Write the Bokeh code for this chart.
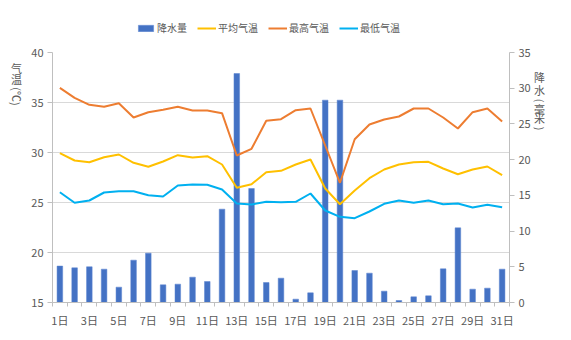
import math
from bokeh.plotting import figure
from bokeh.layouts import row, column
from bokeh.models import (Range1d, LinearAxis, FixedTicker, Legend, LegendItem)
from bokeh.core.properties import value
from bokeh.embed import file_html
from bokeh.resources import INLINE

days = list(range(1, 32))
day_labels = [f"{d}日" for d in days]

rain = [5.1, 4.85, 5.0, 4.67, 2.15, 5.93, 6.91, 2.47, 2.57, 3.55, 2.94, 13.07, 32.06, 15.96,
        2.8, 3.41, 0.47, 1.35, 28.33, 28.33, 4.48, 4.11, 1.59, 0.28, 0.79, 0.93, 4.71, 10.45,
        1.87, 2.01, 4.67]
t_avg = [29.93, 29.2, 29.03, 29.53, 29.8, 28.97, 28.57, 29.1, 29.73, 29.5, 29.63, 28.8, 26.47,
         26.83, 28.03, 28.17, 28.8, 29.3, 26.4, 24.83, 26.2, 27.43, 28.3, 28.8, 29.03, 29.07,
         28.4, 27.83, 28.3, 28.6, 27.73]
t_max = [36.47, 35.47, 34.77, 34.57, 34.93, 33.5, 34.03, 34.27, 34.57, 34.2, 34.2, 33.93, 29.7,
         30.37, 33.17, 33.33, 34.23, 34.4, 30.7, 26.97, 31.33, 32.8, 33.3, 33.6, 34.4, 34.4,
         33.5, 32.4, 34.03, 34.4, 33.1]
t_min = [26.03, 24.97, 25.2, 26.0, 26.13, 26.13, 25.73, 25.6, 26.7, 26.8, 26.77, 26.3, 24.9,
         24.8, 25.07, 25.03, 25.07, 25.9, 24.2, 23.57, 23.43, 24.1, 24.87, 25.2, 24.97, 25.2,
         24.83, 24.9, 24.5, 24.77, 24.53]
series_names = ["降水量", "平均气温", "最高气温", "最低气温"]
left_title = ["气", "温", "(℃)"]
right_title = ["降", "水", "(", "毫", "米", ")"]

FONT = "Noto Sans CJK SC"
GRAY = "#595959"
AXIS = "#bfbfbf"
C_BAR, C_AVG, C_MAX, C_MIN = "#4472c4", "#ffc000", "#ed7d31", "#00b0f0"


def blank_fig(w, h):
    f = figure(width=w, height=h, output_backend="svg", toolbar_location=None,
               x_range=Range1d(0, w), y_range=Range1d(0, h),
               x_axis_location=None, y_axis_location=None,
               min_border=0, min_border_left=0, min_border_right=0,
               min_border_top=0, min_border_bottom=0)
    f.outline_line_color = None
    f.xgrid.grid_line_color = None
    f.ygrid.grid_line_color = None
    return f


# ---------------- main chart ----------------
p = figure(width=507, height=296, output_backend="svg", toolbar_location=None,
           x_range=Range1d(0.5, 31.5), y_range=Range1d(15, 40),
           min_border_left=26, min_border_right=23, min_border_top=8, min_border_bottom=38)
p.extra_y_ranges = {"rain": Range1d(0, 35)}
p.outline_line_color = None
p.xgrid.grid_line_color = None
p.ygrid.grid_line_color = "#d9d9d9"
p.ygrid.grid_line_width = 1

la = p.yaxis[0]
la.ticker = FixedTicker(ticks=[15, 20, 25, 30, 35, 40])
ba = p.xaxis[0]
ba.ticker = FixedTicker(ticks=list(range(1, 32, 2)), minor_ticks=[d + 0.5 for d in range(0, 32)])
ba.major_label_overrides = {d: lab for d, lab in zip(days, day_labels)}
ba.major_tick_out = 0
ba.major_tick_in = 0
ba.minor_tick_out = 4
ba.minor_tick_in = 0

ra = LinearAxis(y_range_name="rain", ticker=FixedTicker(ticks=[0, 5, 10, 15, 20, 25, 30, 35]))
p.add_layout(ra, "right")

for ax in (la, ba, ra):
    ax.axis_line_color = AXIS
    ax.major_tick_line_color = AXIS
    ax.minor_tick_line_color = AXIS
    ax.major_label_text_font = FONT
    ax.major_label_text_font_size = "11px"
    ax.major_label_text_color = GRAY
for ax in (la, ra):
    ax.major_tick_out = 5
    ax.major_tick_in = 0
    ax.minor_tick_out = 0
    ax.minor_tick_in = 0
    ax.major_label_standoff = 4
ba.major_label_standoff = 5

p.vbar(x=days, top=rain, bottom=0, width=0.38, y_range_name="rain",
       fill_color=C_BAR, line_color="#5b85d0", line_width=0.5)
p.line(days, t_avg, line_color=C_AVG, line_width=2)
p.line(days, t_max, line_color=C_MAX, line_width=2)
p.line(days, t_min, line_color=C_MIN, line_width=2)

# ---------------- legend strip on top (hidden proxy renderers) ----------------
top = blank_fig(571, 44)
r_bar = top.vbar(x=days, top=rain, width=1, fill_color=C_BAR, line_color="#5b85d0",
                 line_width=0.5, visible=False)
r_avg = top.line(days, t_avg, line_color=C_AVG, line_width=2, visible=False)
r_max = top.line(days, t_max, line_color=C_MAX, line_width=2, visible=False)
r_min = top.line(days, t_min, line_color=C_MIN, line_width=2, visible=False)
legend = Legend(items=[LegendItem(label=n, renderers=[r]) for n, r in
                       zip(series_names, [r_bar, r_avg, r_max, r_min])],
                orientation="horizontal", location=(136, 9),
                border_line_color=None, background_fill_alpha=0,
                inactive_fill_alpha=0,
                padding=0, margin=0, spacing=10, label_standoff=2,
                glyph_width=19, glyph_height=8,
                label_text_font=FONT, label_text_font_size="10px", label_text_color=GRAY)
top.add_layout(legend, "center")

# ---------------- stacked axis titles (vertical CJK style) ----------------
lf = blank_fig(26, 296)
lf.text(x=[16, 16, 16], y=[278, 265, 244], text=left_title,
        angle=[0.0, 0.0, -math.pi / 2],
        text_font=value(FONT), text_font_size="11px", text_color=GRAY,
        text_align="center", text_baseline="middle")

rf = blank_fig(38, 296)
rf.text(x=[6] * 6, y=[267, 252, 239, 229, 218, 206], text=right_title,
        angle=[0.0, 0.0, -math.pi / 2, 0.0, 0.0, -math.pi / 2],
        text_font=value(FONT), text_font_size="11px", text_color=GRAY,
        text_align="center", text_baseline="middle")

layout = column(top, row(lf, p, rf, spacing=0), spacing=0)
open("out.html", "w").write(file_html(layout, INLINE))
